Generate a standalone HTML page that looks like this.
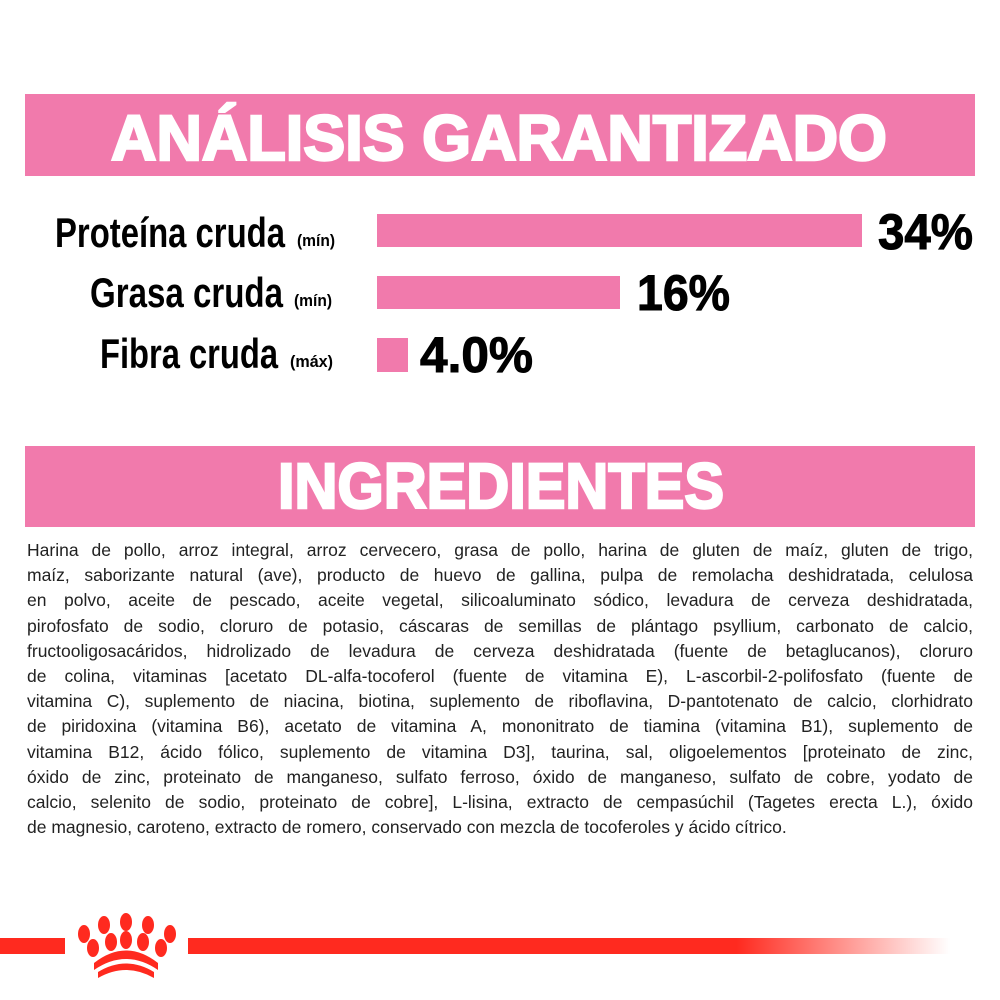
<!DOCTYPE html>
<html><head><meta charset="utf-8"><style>
body{margin:0;width:1000px;height:1000px;background:#fff;position:relative;overflow:hidden;font-family:"Liberation Sans",sans-serif}
svg{position:absolute;left:0;top:0}
#t{position:absolute;left:27px;top:538px;width:946px;font-size:17.5px;line-height:25.2px;color:#222}
#t div{text-align:justify;text-align-last:justify;white-space:nowrap}
#t div.l{text-align-last:left}
</style></head><body>
<svg width="1000" height="1000" viewBox="0 0 1000 1000">
<rect x="25" y="94" width="950" height="82" fill="#f17aac"/>
<rect x="25" y="446" width="950" height="81" fill="#f17aac"/>
<text x="111" y="160" font-size="64" font-weight="bold" fill="#fff" stroke="#fff" stroke-width="2.5" textLength="776" lengthAdjust="spacingAndGlyphs">ANÁLISIS GARANTIZADO</text>
<text x="278" y="508" font-size="64" font-weight="bold" fill="#fff" stroke="#fff" stroke-width="2.5" textLength="446" lengthAdjust="spacingAndGlyphs">INGREDIENTES</text>
<rect x="377" y="214" width="485" height="33" fill="#f17aac"/>
<rect x="377" y="276" width="243" height="33" fill="#f17aac"/>
<rect x="377" y="338" width="31" height="34" fill="#f17aac"/>
<g font-weight="bold" fill="#000">
<text x="55" y="247" font-size="42" textLength="230" lengthAdjust="spacingAndGlyphs">Proteína cruda</text>
<text x="90" y="307" font-size="42" textLength="193" lengthAdjust="spacingAndGlyphs">Grasa cruda</text>
<text x="100" y="368" font-size="42" textLength="178" lengthAdjust="spacingAndGlyphs">Fibra cruda</text>
<text x="297" y="246" font-size="17" textLength="38" lengthAdjust="spacingAndGlyphs">(mín)</text>
<text x="294" y="306" font-size="17" textLength="38" lengthAdjust="spacingAndGlyphs">(mín)</text>
<text x="290" y="367" font-size="17" textLength="43" lengthAdjust="spacingAndGlyphs">(máx)</text>
<text x="878" y="249" font-size="50" stroke="#000" stroke-width="1" textLength="95" lengthAdjust="spacingAndGlyphs">34%</text>
<text x="637" y="310" font-size="50" stroke="#000" stroke-width="1" textLength="93" lengthAdjust="spacingAndGlyphs">16%</text>
<text x="420" y="372" font-size="50" stroke="#000" stroke-width="1" textLength="113" lengthAdjust="spacingAndGlyphs">4.0%</text>
</g>
<defs><linearGradient id="g" x1="0" x2="1"><stop offset="0" stop-color="#ff2a1f"/><stop offset="0.72" stop-color="#ff2a1f"/><stop offset="1" stop-color="#ff2a1f" stop-opacity="0"/></linearGradient></defs>
<rect x="0" y="938" width="65" height="16" fill="#ff2a1f"/>
<rect x="188" y="938" width="762" height="16" fill="url(#g)"/>
<g fill="#ff2a1f">
<ellipse cx="84" cy="934" rx="6" ry="9"/><ellipse cx="104" cy="925" rx="6" ry="9"/><ellipse cx="126" cy="922" rx="6" ry="9"/><ellipse cx="148" cy="925" rx="6" ry="9"/><ellipse cx="170" cy="934" rx="6" ry="9"/>
<ellipse cx="93" cy="948" rx="6" ry="9"/><ellipse cx="111" cy="942" rx="6" ry="9"/><ellipse cx="126" cy="940" rx="6" ry="9"/><ellipse cx="143" cy="942" rx="6" ry="9"/><ellipse cx="161" cy="948" rx="6" ry="9"/>
<path d="M94 963 Q126 938 158 963 L158 970 Q126 948 94 970Z"/>
<path d="M98 972 Q126 955 154 972 L154 978 Q126 962 98 978Z"/>
</g>
</svg>
<div id="t">
<div>Harina de pollo, arroz integral, arroz cervecero, grasa de pollo, harina de gluten de maíz, gluten de trigo,</div>
<div>maíz, saborizante natural (ave), producto de huevo de gallina, pulpa de remolacha deshidratada, celulosa</div>
<div>en polvo, aceite de pescado, aceite vegetal, silicoaluminato sódico, levadura de cerveza deshidratada,</div>
<div>pirofosfato de sodio, cloruro de potasio, cáscaras de semillas de plántago psyllium, carbonato de calcio,</div>
<div>fructooligosacáridos, hidrolizado de levadura de cerveza deshidratada (fuente de betaglucanos), cloruro</div>
<div>de colina, vitaminas [acetato DL-alfa-tocoferol (fuente de vitamina E), L-ascorbil-2-polifosfato (fuente de</div>
<div>vitamina C), suplemento de niacina, biotina, suplemento de riboflavina, D-pantotenato de calcio, clorhidrato</div>
<div>de piridoxina (vitamina B6), acetato de vitamina A, mononitrato de tiamina (vitamina B1), suplemento de</div>
<div>vitamina B12, ácido fólico, suplemento de vitamina D3], taurina, sal, oligoelementos [proteinato de zinc,</div>
<div>óxido de zinc, proteinato de manganeso, sulfato ferroso, óxido de manganeso, sulfato de cobre, yodato de</div>
<div>calcio, selenito de sodio, proteinato de cobre], L-lisina, extracto de cempasúchil (Tagetes erecta L.), óxido</div>
<div class="l">de magnesio, caroteno, extracto de romero, conservado con mezcla de tocoferoles y ácido cítrico.</div>
</div>
</body></html>
